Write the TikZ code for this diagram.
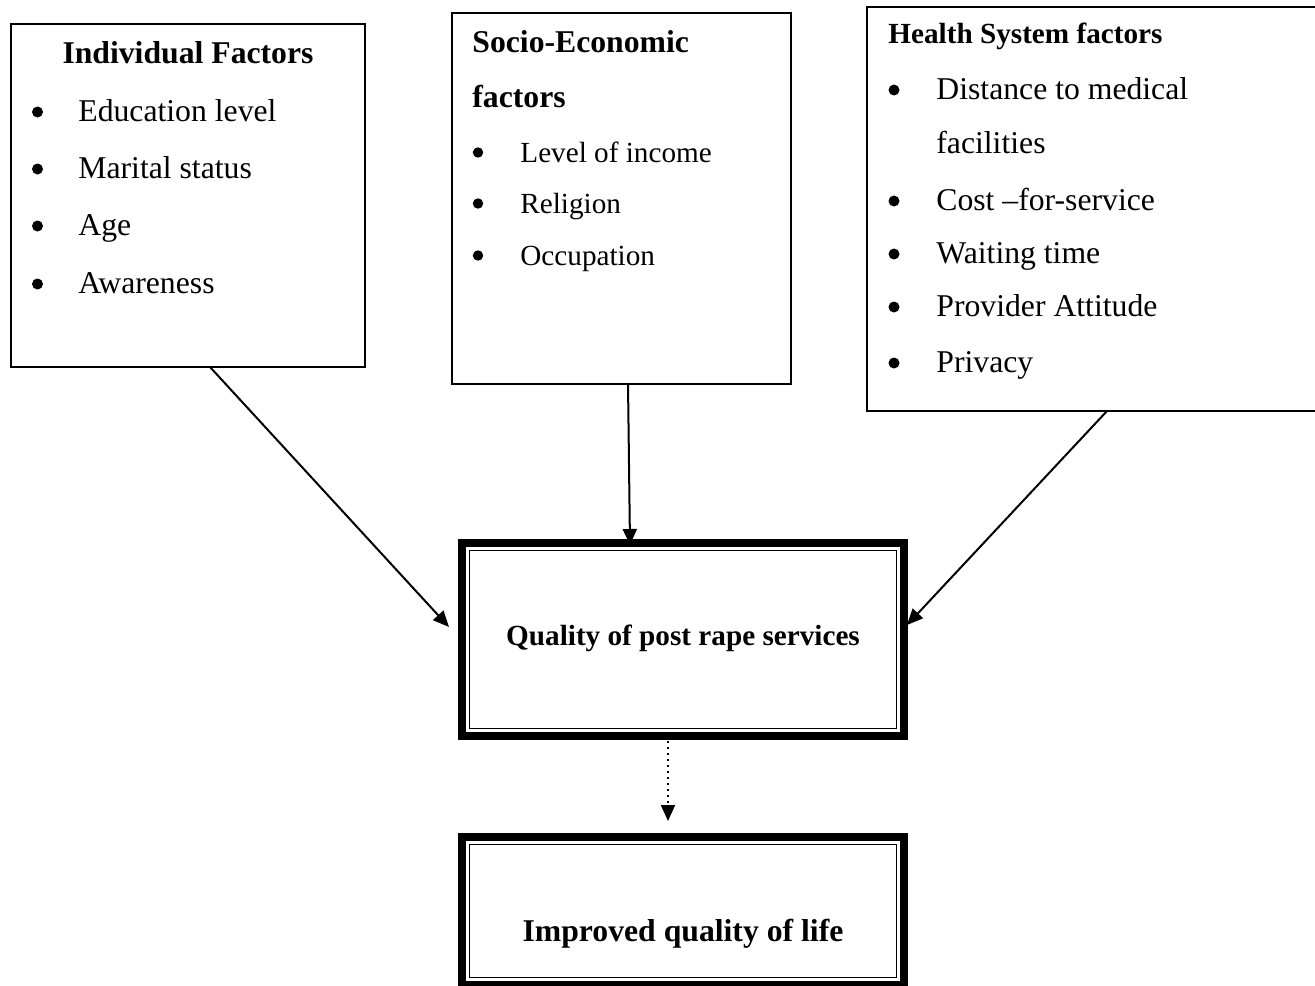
\documentclass[tikz,border=0pt]{standalone}
\usepackage{fontspec}
\setmainfont{Liberation Serif}
\usetikzlibrary{arrows.meta,fit}

\newcommand{\bigtxt}{\fontsize{15.85pt}{19pt}\selectfont}
\newcommand{\smalltxt}{\fontsize{14.6pt}{17.5pt}\selectfont}

\tikzset{
  factorbox/.style={draw, line width=1pt, inner sep=0pt, outer sep=0pt},
  outcome/.style={draw, line width=4pt, inner sep=0pt, outer sep=0pt},
  item/.style={anchor=base west, inner sep=0pt},
  dot/.style={anchor=base, inner sep=0pt},
  link/.style={line width=1pt, -{Triangle[length=8pt,width=7pt]}}
}

\begin{document}
\begin{tikzpicture}[x=0.5pt, y=-0.5pt]
    \useasboundingbox (0,0) rectangle (1315,985);
    \clip (0,0) rectangle (1315,985);

    % the three groups of factors
    \node[factorbox, fit={(11,24) (365,367)}] (ind) {};
    \node[factorbox, fit={(452,13) (791,384)}] (soc) {};
    \node[factorbox, fit={(867,7) (1335,411)}] (hs) {};

    \node[dot, font=\bigtxt\bfseries] (indhead) at (188,63) {Individual Factors};
    \foreach \y/\txt in {121/Education level, 178/Marital status, 235/Age, 293/Awareness} {
        \fill (37.5,\y-9) circle(2.75pt);
        \node[item, font=\bigtxt] at (78,\y) {\txt};
    }

    \node[item, font=\bigtxt\bfseries] (sochead) at (472,52) {Socio-Economic};
    \node[item, font=\bigtxt\bfseries] at (472,107) {factors};
    \foreach \y/\txt in {162/Level of income, 213/Religion, 265/Occupation} {
        \fill (478,\y-9.5) circle(2.6pt);
        \node[item, font=\smalltxt] at (520,\y) {\txt};
    }

    \node[item, font=\smalltxt\bfseries] (hshead) at (888,43) {Health System factors};
    \foreach \y/\txt in {99/Distance to medical, 210/Cost --for-service, 263/Waiting time, 316/Provider Attitude, 372/Privacy} {
        \fill (894,\y-9) circle(2.75pt);
        \node[item, font=\bigtxt] at (936,\y) {\txt};
    }
    \node[item, font=\bigtxt] at (936,153) {facilities};

    % outcome boxes with thick-thin border
    \node[outcome, fit={(462,543) (904,736)}] (quality) {};
    \node[outcome, fit={(462,837) (904,985)}] (life) {};
    \foreach \b in {quality,life}
        \draw[line width=0.75pt] ([shift={(3.75pt,-3.75pt)}]\b.north west) rectangle ([shift={(-3.75pt,3.75pt)}]\b.south east);

    \node[dot, font=\smalltxt\bfseries] (qtxt) at (683,645) {Quality of post rape services};
    \node[dot, font=\bigtxt\bfseries] (ltxt) at (683,941) {Improved quality of life};

    % links
    \draw[link] ([xshift=11pt]ind.south) -- ([xshift=-6.5pt,yshift=6.25pt]quality.west);
    \draw[link] ([xshift=3.25pt]soc.south) -- ([xshift=-26.5pt,yshift=-1pt]quality.north);
    \draw[link] ([xshift=3pt]hs.south) -- ([xshift=1.5pt,yshift=7.25pt]quality.east);
    \draw[link, dotted] ([xshift=-7.5pt,yshift=-2.5pt]quality.south) -- ([xshift=-7.5pt,yshift=8pt]life.north);
\end{tikzpicture}
\end{document}
